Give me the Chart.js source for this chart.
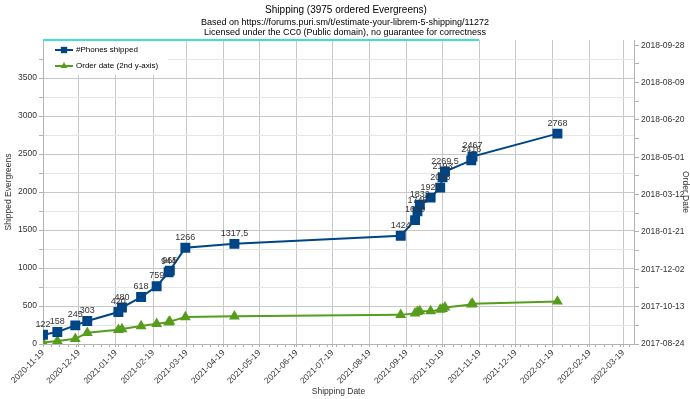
<!DOCTYPE html>
<html>
<head>
<meta charset="utf-8">
<script src="https://cdn.jsdelivr.net/npm/chart.js@4/dist/chart.umd.min.js"></script>
<style>
  html, body { margin: 0; padding: 0; background: #fff; }
  #wrap { width: 690px; height: 399px; }
</style>
</head>
<body>
<div id="wrap"><canvas id="myChart" width="690" height="399"></canvas></div>
<script>
// shipping dates, phones shipped, and the order date reached at that time
let shipDates = ['2020-11-19','2020-12-01','2020-12-16','2020-12-26','2021-01-21','2021-01-24',
  '2021-02-09','2021-02-22','2021-03-04','2021-03-05','2021-03-18','2021-04-28','2021-09-14',
  '2021-09-26','2021-09-28','2021-09-30','2021-10-09','2021-10-17','2021-10-19','2021-10-21',
  '2021-11-12','2021-11-13','2022-01-23']
let shipped = [122,158,245,303,420,480,618,759,944,965,1266,1317.5,1424,1630,1745,1832,1926,2058,2193,2269.5,2416,2467,2768]
let orderDates = ['2017-08-26','2017-08-28','2017-08-31','2017-09-08','2017-09-12','2017-09-13',
  '2017-09-17','2017-09-20','2017-09-22','2017-09-23','2017-09-29','2017-09-30','2017-10-02',
  '2017-10-04','2017-10-06','2017-10-07','2017-10-07','2017-10-09','2017-10-10','2017-10-12',
  '2017-10-16','2017-10-17','2017-10-20']

let xTickLabels = ['2020-11-19','2020-12-19','2021-01-19','2021-02-19','2021-03-19','2021-04-19',
  '2021-05-19','2021-06-19','2021-07-19','2021-08-19','2021-09-19','2021-10-19','2021-11-19',
  '2021-12-19','2022-01-19','2022-02-19','2022-03-19']
let orderTickLabels = ['2017-08-24','2017-10-13','2017-12-02','2018-01-21','2018-03-12',
  '2018-05-01','2018-06-20','2018-08-09','2018-09-28']

let day = s => Date.parse(s) / 864e5
let fmtDay = v => new Date(Math.round(v) * 864e5).toISOString().slice(0, 10)

let blue = '#004586'
let green = '#579d1c'
let font = '"Liberation Sans", Arial, sans-serif'

let shippedPts = shipDates.map((d, i) => ({ x: day(d), y: shipped[i] }))
let orderPts = shipDates.map((d, i) => ({ x: day(d), y: day(orderDates[i]) }))

let xMajor = xTickLabels.map(day)
let orderMajor = orderTickLabels.map(day)

// titles, legend box and data labels
let extras = {
  id: 'extras',
  afterDatasetsDraw(chart) {
    let ctx = chart.ctx
    ctx.save()
    // value labels over the shipped points
    ctx.font = '9px ' + font
    ctx.fillStyle = '#333'
    ctx.textAlign = 'center'
    ctx.textBaseline = 'bottom'
    chart.getDatasetMeta(0).data.forEach((p, i) => {
      ctx.fillText(String(shipped[i]).replace('.', ','), p.x, p.y - 6)
    })
    ctx.restore()
  },
  afterDraw(chart) {
    let ctx = chart.ctx
    let a = chart.chartArea
    ctx.save()
    ctx.fillStyle = '#000'
    ctx.textAlign = 'center'
    ctx.textBaseline = 'middle'
    ctx.font = '10px ' + font
    ctx.fillText('Shipping (3975 ordered Evergreens)', 346, 10)
    ctx.font = '9px ' + font
    ctx.fillText('Based on https://forums.puri.sm/t/estimate-your-librem-5-shipping/11272', 345, 23)
    ctx.fillText('Licensed under the CC0 (Public domain), no guarantee for correctness', 345, 33)

    // legend box
    ctx.fillStyle = '#fff'
    ctx.fillRect(a.left + 1, a.top + 1, 124, 34)
    ctx.strokeStyle = '#40e0d0'
    ctx.lineWidth = 2
    ctx.beginPath()
    ctx.moveTo(a.left, a.top)
    ctx.lineTo(479, a.top)
    ctx.stroke()

    let rows = [
      { text: '#Phones shipped', color: blue, style: 'rect', r: 4.5, y: a.top + 10 },
      { text: 'Order date (2nd y-axis)', color: green, style: 'triangle', r: 4, y: a.top + 26 }
    ]
    rows.forEach(r => {
      ctx.strokeStyle = r.color
      ctx.lineWidth = 2
      ctx.beginPath()
      ctx.moveTo(55, r.y)
      ctx.lineTo(73, r.y)
      ctx.stroke()
      ctx.fillStyle = r.color
      Chart.helpers.drawPoint(ctx, { pointStyle: r.style, radius: r.r, borderWidth: 0 }, 64, r.y)
      ctx.fillStyle = '#000'
      ctx.textAlign = 'left'
      ctx.font = '8px ' + font
      ctx.fillText(r.text, 76, r.y)
    })
    ctx.restore()
  }
}

let tickFont = { family: font, size: 8.5 }

let ctx = document.getElementById('myChart').getContext('2d')
let myChart = new Chart(ctx, {
  type: 'line',
  data: {
    datasets: [{
      label: '#Phones shipped',
      data: shippedPts,
      borderColor: blue,
      backgroundColor: blue,
      borderWidth: 2,
      pointStyle: 'rect',
      pointRadius: 5.6,
      pointHoverRadius: 5.6,
      tension: 0,
      yAxisID: 'y'
    }, {
      label: 'Order date (2nd y-axis)',
      data: orderPts,
      borderColor: green,
      backgroundColor: green,
      borderWidth: 2,
      pointStyle: 'triangle',
      pointRadius: 4.3,
      pointHoverRadius: 4.3,
      tension: 0,
      yAxisID: 'y2'
    }]
  },
  options: {
    responsive: false,
    animation: false,
    layout: { padding: { top: 40, left: 0, right: 0, bottom: 0 } },
    plugins: {
      legend: { display: false },
      tooltip: { enabled: false }
    },
    scales: {
      x: {
        type: 'linear',
        min: day('2020-11-19'),
        max: day('2022-03-28'),
        afterBuildTicks: s => {
          // monthly labelled ticks plus weekly minor marks
          let t = xMajor.map(v => ({ value: v }))
          for (let v = xMajor[0] + 7; v < s.max; v += 7) {
            if (!xMajor.some(m => Math.abs(m - v) < 2)) t.push({ value: v })
          }
          t.sort((a, b) => a.value - b.value)
          s.ticks = t
        },
        afterFit: s => { s.height = 55 },
        ticks: {
          autoSkip: false,
          minRotation: 45,
          maxRotation: 45,
          padding: 1,
          color: '#333',
          font: tickFont,
          callback: v => xMajor.includes(v) ? fmtDay(v) : ''
        },
        grid: {
          color: c => (c.tick && xMajor.includes(c.tick.value)) ? '#c8c8c8' : 'rgba(0,0,0,0)',
          tickLength: 3,
          tickColor: '#b3b3b3'
        },
        border: { color: '#b3b3b3' },
        title: {
          display: true,
          text: 'Shipping Date',
          color: '#333',
          font: { family: font, size: 8.5 },
          padding: { top: 0, bottom: 2 }
        }
      },
      y: {
        position: 'left',
        min: 0,
        max: 4000,
        afterBuildTicks: s => {
          let t = []
          for (let v = 0; v < 4000; v += 250) t.push({ value: v })
          s.ticks = t
        },
        afterFit: s => { s.width = 43 },
        ticks: {
          color: '#333',
          padding: 2,
          font: tickFont,
          callback: v => (v % 500 === 0 && v <= 3500) ? v : ''
        },
        grid: {
          color: c => (c.tick && c.tick.value % 500 === 0) ? '#c8c8c8' : '#e6e6e6',
          tickLength: 4,
          tickColor: '#b3b3b3'
        },
        border: { color: '#b3b3b3' },
        title: {
          display: true,
          text: 'Shipped Evergreens',
          color: '#333',
          font: { family: font, size: 8.5 },
          padding: { top: 4, bottom: 0 }
        }
      },
      y2: {
        position: 'right',
        min: day('2017-08-24'),
        max: day('2017-08-24') + 407,
        afterBuildTicks: s => {
          let t = []
          orderMajor.forEach((v, i) => {
            t.push({ value: v })
            if (i < orderMajor.length - 1) t.push({ value: v + 25 })
          })
          s.ticks = t
        },
        afterFit: s => { s.width = 56 },
        ticks: {
          color: '#333',
          padding: 2,
          font: tickFont,
          callback: v => orderMajor.includes(v) ? fmtDay(v) : ''
        },
        grid: { drawOnChartArea: false, tickLength: 5, color: '#b3b3b3' },
        border: { color: '#b3b3b3' },
        title: {
          display: true,
          text: 'Order Date',
          color: '#333',
          font: { family: font, size: 8.5 },
          padding: { top: 0, bottom: 0 }
        }
      }
    }
  },
  plugins: [extras]
})
</script>
</body>
</html>
